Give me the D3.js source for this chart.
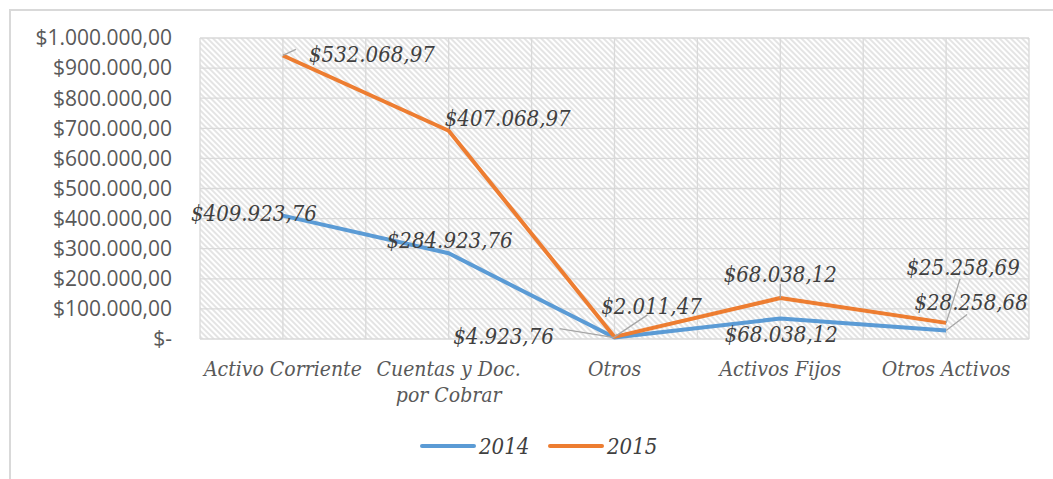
<!DOCTYPE html>
<html>
<head>
<meta charset="utf-8">
<script src="https://cdn.jsdelivr.net/npm/d3@7"></script>
<style>
  body { margin: 0; background: #fff; }
  svg { display: block; }
  .serif { font-family: "DejaVu Serif Condensed", "DejaVu Serif", serif; font-style: italic; }
</style>
</head>
<body>
<div id="chart"></div>
<script>
// Data
var categories = ["Activo Corriente", "Cuentas y Doc.|por Cobrar", "Otros", "Activos Fijos", "Otros Activos"];
var values2014 = [409923.76, 284923.76, 4923.76, 68038.12, 28258.68];
var values2015 = [532068.97, 407068.97, 2011.47, 68038.12, 25258.69];
var yTicks = [0, 100000, 200000, 300000, 400000, 500000, 600000, 700000, 800000, 900000, 1000000];
var seriesNames = ["2014", "2015"];

// stacked line: 2015 sits on top of 2014
var stacked2015 = values2015.map(function (v, i) { return v + values2014[i]; });

var W = 1053, H = 479;
var margin = { top: 38, right: 24, bottom: 140, left: 200 },
    width = W - margin.left - margin.right,
    height = H - margin.top - margin.bottom;

var svg = d3.select("#chart").append("svg")
    .attr("width", W)
    .attr("height", H);

// Outer chart border
svg.append("rect")
    .attr("x", 10).attr("y", 10)
    .attr("width", W).attr("height", H)
    .attr("fill", "#fff")
    .attr("stroke", "#d9d9d9")
    .attr("stroke-width", 2);

// Hatch pattern
var defs = svg.append("defs");
defs.append("pattern")
    .attr("id", "hatch")
    .attr("patternUnits", "userSpaceOnUse")
    .attr("width", 4).attr("height", 4)
    .attr("patternTransform", "rotate(-45)")
    .append("line")
    .attr("x1", 1).attr("y1", 0)
    .attr("x2", 1).attr("y2", 4)
    .attr("stroke", "#d9d9d9")
    .attr("stroke-width", 1.4);

var g = svg.append("g")
    .attr("transform", "translate(" + margin.left + "," + margin.top + ")");

var x = d3.scaleBand().domain(categories).range([0, width]);
var y = d3.scaleLinear().domain([0, 1000000]).range([height, 0]);
var cx = function (c) { return x(c) + x.bandwidth() / 2; };

g.append("rect")
    .attr("width", width).attr("height", height)
    .attr("fill", "url(#hatch)");

// Horizontal gridlines
g.selectAll(".hgrid")
    .data(yTicks)
    .enter().append("line")
    .attr("x1", 0).attr("x2", width)
    .attr("y1", function (d) { return y(d); })
    .attr("y2", function (d) { return y(d); })
    .attr("stroke", "#d9d9d9")
    .attr("stroke-width", 1.3);

// Vertical gridlines at band edges and centers
var vlines = [];
categories.forEach(function (c) { vlines.push(x(c)); vlines.push(cx(c)); });
vlines.push(width);
g.selectAll(".vgrid")
    .data(vlines)
    .enter().append("line")
    .attr("x1", function (d) { return d; }).attr("x2", function (d) { return d; })
    .attr("y1", 0).attr("y2", height)
    .attr("stroke", "#d9d9d9")
    .attr("stroke-width", 1.3);

// Y axis labels
var money = function (v) {
    return "$" + d3.format(",.2f")(v).replace(/,/g, "#").replace(".", ",").replace(/#/g, ".");
};
g.selectAll(".ylab")
    .data(yTicks)
    .enter().append("text")
    .attr("x", -28)
    .attr("y", function (d) { return y(d); })
    .attr("dy", "0.35em")
    .attr("text-anchor", "end")
    .style("font-family", "'Open Sans', 'Liberation Sans', sans-serif")
    .style("font-size", "21px")
    .style("fill", "#595959")
    .text(function (d) { return d === 0 ? "$-" : money(d); });

// X axis labels
categories.forEach(function (c) {
    var lines = c.split("|");
    var t = g.append("text")
        .attr("class", "serif")
        .attr("x", cx(c))
        .attr("y", height + 37)
        .attr("text-anchor", "middle")
        .style("font-size", "21px")
        .style("fill", "#595959");
    lines.forEach(function (l, i) {
        t.append("tspan").attr("x", cx(c)).attr("dy", i === 0 ? 0 : 26).text(l);
    });
});

// Lines
var line = d3.line()
    .x(function (d, i) { return cx(categories[i]); })
    .y(function (d) { return y(d); });

var colors = { "2014": "#5b9bd5", "2015": "#ed7d31" };

g.append("path")
    .datum(values2014)
    .attr("d", line)
    .attr("fill", "none")
    .attr("stroke", colors["2014"])
    .attr("stroke-width", 4)
    .attr("stroke-linejoin", "round");

g.append("path")
    .datum(stacked2015)
    .attr("d", line)
    .attr("fill", "none")
    .attr("stroke", colors["2015"])
    .attr("stroke-width", 4)
    .attr("stroke-linejoin", "round");

// Data labels: label center offsets from the point, and leader line ends
var labelOffsets2014 = [[-29, -2], [1, -13], [-111, -1], [1, 16], [25, -28]];
var labelOffsets2015 = [[89, -1], [59, -12], [37, -31], [0, -24], [17, -56]];
var leaders2014 = [null, null, [-55, -9], null, [21, -16]];
var leaders2015 = [[13, -6], null, [33, -22], [0, -14], [14, -44]];

function drawLabels(vals, pos, offs, leads) {
    vals.forEach(function (v, i) {
        var px = cx(categories[i]), py = y(pos[i]);
        if (leads[i]) {
            g.append("line")
                .attr("x1", px).attr("y1", py)
                .attr("x2", px + leads[i][0]).attr("y2", py + leads[i][1])
                .attr("stroke", "#a6a6a6")
                .attr("stroke-width", 1.3);
        }
        g.append("text")
            .attr("class", "serif")
            .attr("x", px + offs[i][0])
            .attr("y", py + offs[i][1])
            .attr("dy", "0.35em")
            .attr("text-anchor", "middle")
            .style("font-size", "22px")
            .style("fill", "#404040")
            .text(money(v));
    });
}
drawLabels(values2014, values2014, labelOffsets2014, leaders2014);
drawLabels(values2015, stacked2015, labelOffsets2015, leaders2015);

// Legend
var legend = svg.append("g").attr("transform", "translate(420,446)");
seriesNames.forEach(function (s, i) {
    var lg = legend.append("g").attr("transform", "translate(" + (i * 128) + ",0)");
    lg.append("line")
        .attr("x1", 2).attr("x2", 54)
        .attr("stroke", colors[s])
        .attr("stroke-width", 4)
        .attr("stroke-linecap", "round");
    lg.append("text")
        .attr("class", "serif")
        .attr("x", 59)
        .attr("dy", "0.35em")
        .style("font-size", "22px")
        .style("fill", "#404040")
        .text(s);
});
</script>
</body>
</html>
